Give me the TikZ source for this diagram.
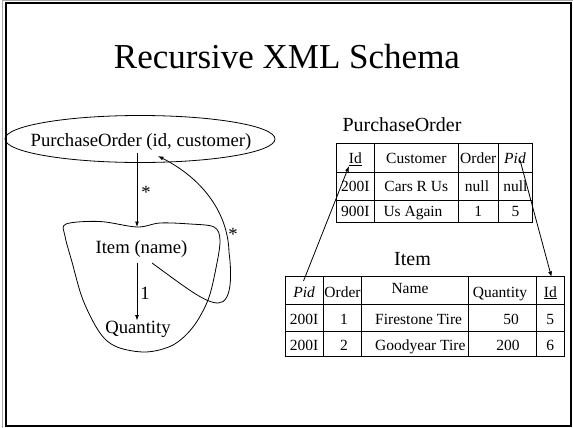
\documentclass[tikz,border=0pt]{standalone}
\usepackage{fontspec}
\setmainfont{Liberation Serif}
\usetikzlibrary{arrows.meta}
\begin{document}
\begin{tikzpicture}[x=1pt,y=-1pt,
  conn/.style={line width=0.8pt,-{Latex[length=5.5pt,width=4pt]}},
  lbl/.style={font=\fontsize{18.7}{20}\selectfont,inner sep=0pt,anchor=base},
  ttl/.style={font=\fontsize{20}{22}\selectfont,inner sep=0pt,anchor=base},
  cell/.style={font=\fontsize{15.5}{17}\selectfont,inner sep=0pt,anchor=base},
  grid/.style={line width=0.9pt},
  outline/.style={line width=0.8pt}]
\useasboundingbox (0,0) rectangle (573,428);

% slide frame
\draw[gray!70,line width=1pt] (2.5,427.5) -- (2.5,1) -- (572.5,1);
\draw[line width=2pt] (5.5,3) rectangle (571,425.5);

% title
\node[font=\fontsize{35}{40}\selectfont,inner sep=0pt,anchor=base] (title) at (287,69) {Recursive XML Schema};

% schema graph
\node[lbl] (po) at (141,146.5) {PurchaseOrder (id, customer)};
\draw[outline] (140,139) ellipse [x radius=135, y radius=23.5];
\node[lbl] (item) at (141.5,253) {Item (name)};
\node[lbl] (qty) at (138,333) {Quantity};

\draw[outline] plot[smooth cycle,tension=0.55] coordinates {
  (66,224) (100,221.5) (137,227) (160,223) (190,224) (214,227) (220,240)
  (216,268) (208,300) (193,327) (173,345) (146,352) (117,347) (100,333)
  (83,300) (72,262) (65,236)};

\coordinate (poOut) at (137,153);
\coordinate (blobTop) at (137,227);
\draw[conn] (poOut) -- (blobTop);
\node[lbl] (star1) at (146,198) {*};

\coordinate (itemOut) at (137,263);
\coordinate (qtyIn) at (137,320.5);
\draw[conn] (itemOut) -- (qtyIn);
\node[lbl] (one) at (145,299.5) {1};

\coordinate (loopStart) at (152,263);
\coordinate (poIn) at (158,156);
\draw[conn] (loopStart) .. controls (185,287) and (205,303) .. (218,303)
  .. controls (232,303) and (232,275) .. (229,252)
  .. controls (228,215) and (205,180) .. (poIn);
\node[lbl] (star2) at (233,240) {*};

% PurchaseOrder table
\node[ttl] (potitle) at (402,131.5) {PurchaseOrder};
\draw[grid] (336.5,143.5) rectangle (532.5,222);
\draw[grid] (336.5,172.5) -- (532.5,172.5) (336.5,200.5) -- (532.5,200.5);
\draw[grid] (374.3,143.5) -- (374.3,222) (458.3,143.5) -- (458.3,222) (498.3,143.5) -- (498.3,222);
\node[cell] (poId) at (355.4,163.5) {\underline{Id}};
\node[cell] (poCust) at (416.3,163.5) {Customer};
\node[cell] (poOrd) at (478.3,163.5) {Order};
\node[cell] (poPid) at (515,163.5) {\textit{Pid}};
\node[cell] (po11) at (355.4,191.5) {200I};
\node[cell] (po12) at (416.3,191.5) {Cars R Us};
\node[cell] (po13) at (477,191.5) {null};
\node[cell] (po14) at (515.4,191.5) {null};
\node[cell] (po21) at (355.4,216) {900I};
\node[cell] (po22) at (413,216) {Us Again};
\node[cell] (po23) at (478.3,216) {1};
\node[cell] (po24) at (515.4,216) {5};

% Item table
\node[ttl] (ititle) at (412.5,265) {Item};
\draw[grid] (285,276.5) rectangle (564,356);
\draw[grid] (285,304) -- (564,304) (285,331.5) -- (564,331.5);
\draw[grid] (323.3,276.5) -- (323.3,356) (361.7,276.5) -- (361.7,356)
  (468.3,276.5) -- (468.3,356) (536.7,276.5) -- (536.7,356);
\node[cell] (iPid) at (304.2,297) {\textit{Pid}};
\node[cell] (iOrd) at (342.5,297) {Order};
\node[cell] (iName) at (410,293.5) {Name};
\node[cell] (iQty) at (500,297) {Quantity};
\node[cell] (iId) at (550.3,297) {\underline{Id}};
\node[cell] (i11) at (304.2,324) {200I};
\node[cell] (i12) at (344,324) {1};
\node[cell,anchor=base west] (i13) at (375,324) {Firestone Tire};
\node[cell] (i14) at (511,324) {50};
\node[cell] (i15) at (550.3,324) {5};
\node[cell] (i21) at (304.2,350.5) {200I};
\node[cell] (i22) at (344,350.5) {2};
\node[cell,anchor=base west] (i23) at (375,350.5) {Goodyear Tire};
\node[cell] (i24) at (508,350.5) {200};
\node[cell] (i25) at (550.3,350.5) {6};

% foreign-key links
\coordinate (iPidTop) at (303.5,281);
\coordinate (poIdMark) at (349,166);
\draw[conn] (iPidTop) -- (poIdMark);
\coordinate (poPidMark) at (520,160);
\coordinate (iIdTop) at (551.5,277);
\draw[conn] (poPidMark) -- (iIdTop);
\end{tikzpicture}
\end{document}
